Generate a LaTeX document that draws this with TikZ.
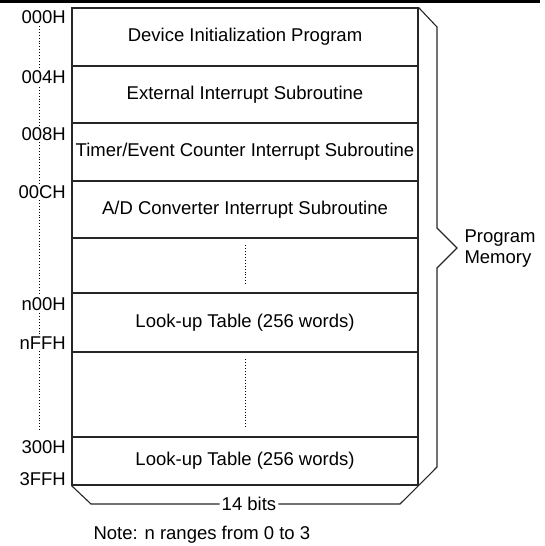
\documentclass[tikz,border=0pt]{standalone}
\usepackage{fontspec}
\setmainfont{Liberation Sans}
\usetikzlibrary{calc}

\begin{document}
\begin{tikzpicture} [x=1pt, y=-1pt,
	font=\fontsize{18.5}{21}\selectfont,
	memrow/.style={draw=black!85, line width=1.1pt, minimum width=346pt, inner sep=0pt},
	addr/.style={anchor=east, fill=white, inner sep=1pt}]

		\useasboundingbox (0,0) rectangle (544,546);

		\draw [line width=3pt] (0,1.5) -- (540,1.5);

		% address scale on the left
		\coordinate (dtop) at (39,26);
		\coordinate (dbot) at (39,430);
		\draw [dotted, line width=0.9pt] (dtop) -- (dbot);

		% the rows of the memory map
		\node[memrow, minimum height=58pt] (dev) at (245,37)%
		{Device Initialization Program};

		\node[memrow, minimum height=57pt] (ext) at (245,94.5)%
		{External Interrupt Subroutine};

		\node[memrow, minimum height=58pt] (tmr) at (245,152)%
		{Timer/Event Counter Interrupt Subroutine};

		\node[memrow, minimum height=57pt] (adc) at (245,209.5)%
		{A/D Converter Interrupt Subroutine};

		\node[memrow, minimum height=55pt] (gap1) at (245,265.5) {};

		\node[memrow, minimum height=59pt] (lut1) at (245,322.5)%
		{Look-up Table (256 words)};

		\node[memrow, minimum height=85pt] (gap2) at (245,394.5) {};

		\node[memrow, minimum height=48pt] (lut2) at (245,461)%
		{Look-up Table (256 words)};

		\draw [dotted, line width=0.9pt] ($(gap1.north)+(0,8)$) -- ($(gap1.south)+(0,-8)$);

		\draw [dotted, line width=0.9pt] ($(gap2.north)+(0,8)$) -- ($(gap2.south)+(0,-10)$);

		% addresses
		\node[addr] (a000) at (67,17) {000H};
		\node[addr] (a004) at (67,77) {004H};
		\node[addr] (a008) at (67,134) {008H};
		\node[addr] (a00c) at (67,192) {00CH};
		\node[addr] (an00) at (67,304) {n00H};
		\node[addr] (anff) at (67,343) {nFFH};
		\node[addr] (a300) at (67,447) {300H};
		\node[addr] (a3ff) at (67,479) {3FFH};

		% brace on the right
		\draw [line width=1.1pt, black!85] (dev.north east) -- (437,27) -- (437,228)%
		-- (457,248) -- (437,268) -- (437,467) -- (lut2.south east);

		\node[align=left, anchor=west] (pm) at (461,249)%
		{Program\\Memory};

		% width bracket below
		\node[inner sep=2pt] (bits) at (249,504) {14 bits};

		\draw [line width=1.1pt, black!85] (lut2.south west) -- (91,504) -- (bits.west);
		\draw [line width=1.1pt, black!85] (bits.east) -- (400,504) -- (lut2.south east);

		\node[anchor=west] (note) at (90,535) {Note: n ranges from 0 to 3};
	\end{tikzpicture}
\end{document}
